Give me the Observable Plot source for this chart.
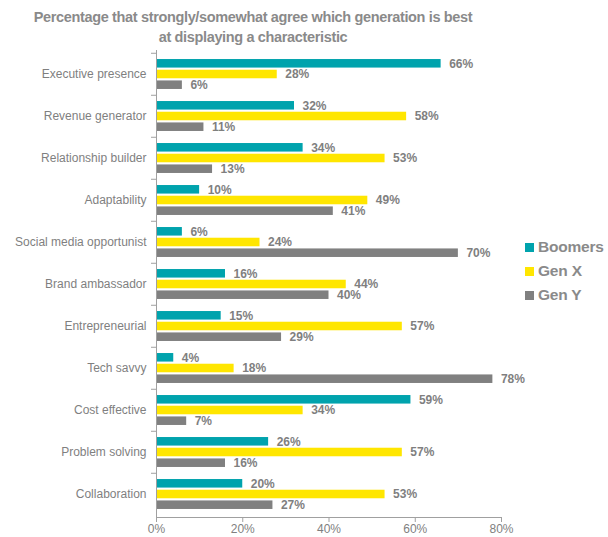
<!DOCTYPE html>
<html>
<head>
<meta charset="utf-8">
<script src="https://cdn.jsdelivr.net/npm/d3@7"></script>
<script src="https://cdn.jsdelivr.net/npm/@observablehq/plot@0.6"></script>
<style>
  html, body { margin: 0; padding: 0; background: #fff; }
  #wrap { position: relative; width: 608px; height: 537px; font-family: "Liberation Sans", Arial, sans-serif; }
  #title { position: absolute; left: 0; top: 7px; width: 506px; text-align: center; font-weight: bold; font-size: 14.5px; letter-spacing: -0.35px; line-height: 20px; color: #8a8a8a; }
  #chart { position: absolute; left: 0; top: 44px; }
  #legend { position: absolute; left: 525px; top: 235px; }
  .li { display: flex; align-items: center; height: 24px; font-weight: bold; font-size: 15.5px; letter-spacing: -0.2px; color: #8a8a8a; }
  .sw { width: 9px; height: 9px; margin-right: 4px; }
</style>
</head>
<body>
<div id="wrap">
  <div id="title">Percentage that strongly/somewhat agree which generation is best<br>at displaying a characteristic</div>
  <div id="chart"></div>
  <div id="legend"></div>
</div>
<script>
const categories = ["Executive presence","Revenue generator","Relationship builder","Adaptability","Social media opportunist","Brand ambassador","Entrepreneurial","Tech savvy","Cost effective","Problem solving","Collaboration"];
const series = ["Boomers","Gen X","Gen Y"];
const boomers = [66,32,34,10,6,16,15,4,59,26,20];
const genX    = [28,58,53,49,24,44,57,18,34,57,53];
const genY    = [6,11,13,41,70,40,29,78,7,16,27];
const xTicks = [0,20,40,60,80];
const colors = ["#00a3ad","#ffe600","#808080"];

const seriesValues = [boomers, genX, genY];
const rows = categories.flatMap((c, i) => series.map((s, j) => ({category: c, series: s, value: seriesValues[j][i]})));

const W = 608, H = 493, mTop = 6, mBottom = 20, mLeft = 156, mRight = 107;
const bandH = (H - mTop - mBottom) / categories.length;
const barH = 9, step = 10.7;
const inset = (bandH - barH) / 2;
const textGray = "#7f7f7f";
const axisGray = "#a0a0a0";

const marks = [];
series.forEach((s, j) => {
  const d = rows.filter(r => r.series === s);
  const off = (j - 1) * step;
  marks.push(Plot.barX(d, {x: "value", y: "category", fill: colors[j], insetTop: inset, insetBottom: inset, dy: off}));
  marks.push(Plot.text(d, {x: "value", y: "category", text: r => r.value + "%", dx: 8, dy: off, textAnchor: "start", fontWeight: "bold", fontSize: 12, fill: textGray}));
});

const plot = Plot.plot({
  width: W, height: H,
  marginTop: mTop, marginBottom: mBottom, marginLeft: mLeft, marginRight: mRight,
  style: {fontFamily: "Liberation Sans, Arial, sans-serif", background: "transparent"},
  x: {domain: [0, 80]},
  y: {domain: categories, padding: 0},
  marks: [
    ...marks,
    Plot.frame({anchor: "left", stroke: axisGray}),
    Plot.frame({anchor: "bottom", stroke: axisGray}),
    Plot.axisY({tickSize: 0, tickPadding: 10, fontSize: 12, fill: textGray, label: null}),
    Plot.axisY({tickSize: 5, tickFormat: () => "", dy: -bandH / 2, stroke: axisGray, label: null}),
    Plot.axisX({ticks: xTicks, tickFormat: d => d + "%", tickSize: 5, tickPadding: 2, fontSize: 12, fill: textGray, stroke: axisGray, label: null})
  ]
});
document.getElementById("chart").appendChild(plot);

const legend = document.getElementById("legend");
series.forEach((s, j) => {
  const li = document.createElement("div");
  li.className = "li";
  li.innerHTML = `<span class="sw" style="background:${colors[j]}"></span>${s}`;
  legend.appendChild(li);
});
</script>
</body>
</html>
